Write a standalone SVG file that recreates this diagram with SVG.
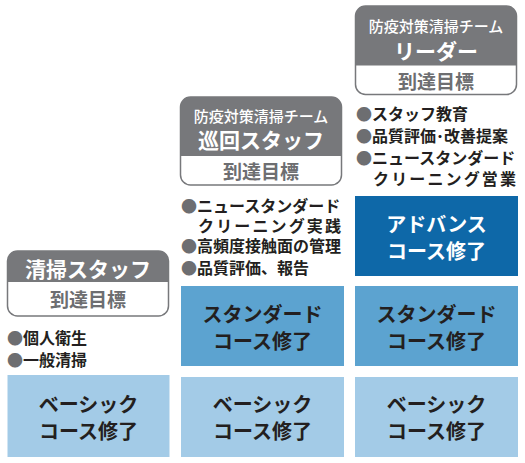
<svg xmlns="http://www.w3.org/2000/svg" width="525" height="463" viewBox="0 0 525 463">
<style>
text{font-family:"Noto Sans CJK JP","Noto Sans",sans-serif;dominant-baseline:central}
.hb{fill:#77787b}
.ho{fill:#fff;stroke:#77787b;stroke-width:1.5}
.ht{fill:#fff;font-size:15px;font-weight:500;text-anchor:middle}
.hn{fill:#fff;font-size:21px;font-weight:700;text-anchor:middle}
.goal{fill:#6d6e71;font-size:19px;font-weight:700;text-anchor:middle}
.bl{fill:#231f20;font-size:16px;font-weight:600}
.dot{fill:#6d6e71}
.basic{fill:#a3cbe7}
.std{fill:#5ca3d0}
.adv{fill:#0e68a8}
.bt{fill:#231f20;font-size:20px;font-weight:700;text-anchor:middle}
.bw{fill:#fff;font-size:20px;font-weight:700;text-anchor:middle}
</style>

<g id="col1-header">
<rect class="ho" x="7.5" y="251" width="161" height="65" rx="10"/>
<path class="hb" d="M7.5 282 V261 A10 10 0 0 1 17.5 251 H158.5 A10 10 0 0 1 168.5 261 V282 Z"/>
<text class="hn" x="88" y="268">清掃スタッフ</text>
<text class="goal" x="88" y="298">到達目標</text>
</g>
<g id="col1-goals">
<text class="bl" x="7" y="337"><tspan class="dot">●</tspan>個人衛生</text>
<text class="bl" x="7" y="359"><tspan class="dot">●</tspan>一般清掃</text>
</g>
<g id="col1-basic">
<rect class="basic" x="7.5" y="375" width="162" height="82"/>
<text class="bt" x="88.5" y="403">ベーシック</text>
<text class="bt" x="88.5" y="430">コース修了</text>
</g>

<g id="col2-header">
<rect class="ho" x="180.5" y="97" width="161" height="88" rx="10"/>
<path class="hb" d="M180.5 156 V107 A10 10 0 0 1 190.5 97 H331.5 A10 10 0 0 1 341.5 107 V156 Z"/>
<text class="ht" x="261" y="115">防疫対策清掃チーム</text>
<text class="hn" x="261" y="139">巡回スタッフ</text>
<text class="goal" x="261" y="170">到達目標</text>
</g>
<g id="col2-goals">
<text class="bl" x="181" y="205"><tspan class="dot">●</tspan>ニュースタンダード</text>
<text class="bl" x="198" y="225" textLength="143" lengthAdjust="spacing">クリーニング実践</text>
<text class="bl" x="181" y="245"><tspan class="dot">●</tspan>高頻度接触面の管理</text>
<text class="bl" x="181" y="267"><tspan class="dot">●</tspan>品質評価、報告</text>
</g>
<g id="col2-standard">
<rect class="std" x="181" y="286" width="163" height="80"/>
<text class="bt" x="262.5" y="313">スタンダード</text>
<text class="bt" x="262.5" y="340">コース修了</text>
</g>
<g id="col2-basic">
<rect class="basic" x="181" y="377" width="163" height="80"/>
<text class="bt" x="262.5" y="403">ベーシック</text>
<text class="bt" x="262.5" y="430">コース修了</text>
</g>

<g id="col3-header">
<rect class="ho" x="355.5" y="6" width="161" height="88.5" rx="10"/>
<path class="hb" d="M355.5 65.5 V16 A10 10 0 0 1 365.5 6 H506.5 A10 10 0 0 1 516.5 16 V65.5 Z"/>
<text class="ht" x="436" y="25">防疫対策清掃チーム</text>
<text class="hn" x="436" y="50">リーダー</text>
<text class="goal" x="436" y="80">到達目標</text>
</g>
<g id="col3-goals">
<text class="bl" x="356" y="113"><tspan class="dot">●</tspan>スタッフ教育</text>
<text class="bl" x="356" y="135"><tspan class="dot">●</tspan>品質評価･改善提案</text>
<text class="bl" x="356" y="157"><tspan class="dot">●</tspan>ニュースタンダード</text>
<text class="bl" x="373" y="178" textLength="143" lengthAdjust="spacing">クリーニング営業</text>
</g>
<g id="col3-advanced">
<rect class="adv" x="355" y="196" width="163" height="80"/>
<text class="bw" x="436.5" y="223">アドバンス</text>
<text class="bw" x="436.5" y="250">コース修了</text>
</g>
<g id="col3-standard">
<rect class="std" x="355" y="286" width="163" height="80"/>
<text class="bt" x="436.5" y="313">スタンダード</text>
<text class="bt" x="436.5" y="340">コース修了</text>
</g>
<g id="col3-basic">
<rect class="basic" x="355" y="377" width="163" height="80"/>
<text class="bt" x="436.5" y="403">ベーシック</text>
<text class="bt" x="436.5" y="430">コース修了</text>
</g>
</svg>
